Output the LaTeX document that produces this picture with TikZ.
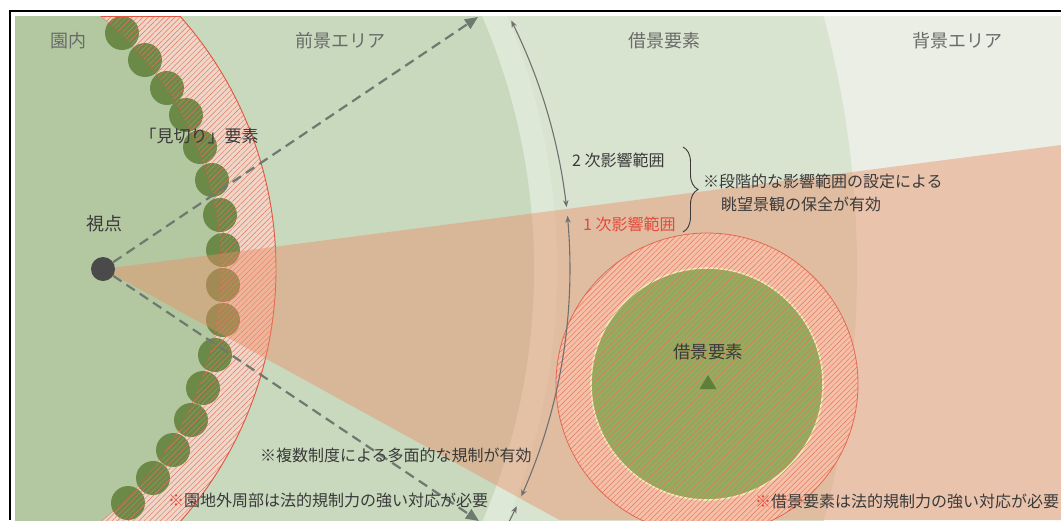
\documentclass[tikz,border=0pt]{standalone}
\usepackage{fontspec}
\setmainfont{Noto Sans CJK JP}
\usetikzlibrary{arrows.meta,patterns.meta,decorations.pathreplacing}
\definecolor{zoneIn}{HTML}{B3C8A0}
\definecolor{zoneFore}{HTML}{C8D9BE}
\definecolor{zoneBorrow}{HTML}{D8E3D0}
\definecolor{zoneBack}{HTML}{EAEEE4}
\definecolor{wedgeC}{HTML}{EC8C64}
\definecolor{treeC}{HTML}{6B8A48}
\definecolor{bandC}{HTML}{EED6C8}
\definecolor{hatchC}{HTML}{E2553F}
\definecolor{hatchL}{HTML}{E47560}
\definecolor{ringC}{HTML}{F4C0A8}
\definecolor{innerC}{HTML}{92AD5E}
\definecolor{creamC}{HTML}{F2E8B8}
\definecolor{triC}{HTML}{5E7F3A}
\definecolor{vpC}{HTML}{4A4A4A}
\definecolor{dashC}{HTML}{6E7A70}
\definecolor{arcC}{HTML}{707070}
\definecolor{zoneTxt}{HTML}{6A6A6A}
\definecolor{darkTxt}{HTML}{3A3A3A}
\definecolor{redTxt}{HTML}{E5483A}
\tikzset{
  zonelab/.style={text=zoneTxt, inner sep=0pt, font=\fontsize{18}{20}\selectfont},
  darklab/.style={text=darkTxt, inner sep=0pt, font=\fontsize{17}{20}\selectfont},
  notelab/.style={text=darkTxt, inner sep=0pt, font=\fontsize{16}{19}\selectfont, anchor=west},
  hatch/.style={pattern={Lines[angle=45,distance=3.8pt,line width=0.45pt]}, pattern color=hatchL},
  dasharrow/.style={draw=dashC, line width=2.2pt, dash pattern=on 10pt off 6pt, -{Triangle[length=13pt,width=11pt]}},
  measarrow/.style={draw=arcC, line width=1.1pt},
  tipS/.tip={Stealth[length=7pt,width=5.5pt]},
}
\begin{document}
\begin{tikzpicture}[x=1pt,y=-1pt]
\useasboundingbox (0,0) rectangle (1061,520);
\coordinate (C) at (-105,269);
\coordinate (topTip) at (478,17);
\coordinate (botTip) at (479,521);
\coordinate (wedgeTop) at (1061,145);
\coordinate (wedgeBot) at (559.4,520);
\coordinate (ringC0) at (707,384);
\begin{scope}
  \clip (15,16) rectangle (1061,520);
  % zones
  \fill[zoneBack] (15,16) rectangle (1061,520);
  \fill[zoneBorrow] (C) circle[radius=962];
  \fill[white!16!zoneBorrow] (C) circle[radius=662];
  \fill[zoneFore] (C) circle[radius=639];
  \fill[zoneIn] (C) circle[radius=326];
  % boundary band
  \fill[bandC, even odd rule] (C) circle[radius=381] (C) circle[radius=326];
  \foreach \x/\y in {122/33,145/60,167/88,186/115,200/147,212/180,220/215,223/250,223/285,223/320,215/355,203/388,191/420,173/450,153/478,128/503}
    \fill[treeC] (\x,\y) circle[radius=17];
  \fill[hatch, even odd rule] (C) circle[radius=381] (C) circle[radius=326];
  \draw[hatchC, line width=0.7pt, opacity=0.45] (C) circle[radius=326];
  \draw[hatchC, line width=0.9pt] (C) circle[radius=381];
  \draw[hatchC, line width=0.9pt] (100.6,16.5) -- (179.9,16.5);
  % view wedge
  \node[circle, inner sep=0pt, minimum size=24pt] (vp) at (103,269) {};
  \fill[wedgeC, fill opacity=0.43] (vp.center) -- (wedgeTop) -- (1061,520) -- (wedgeBot) -- cycle;
  % borrowed scenery element
  \fill[ringC] (ringC0) circle[radius=151];
  \fill[innerC] (ringC0) circle[radius=116];
  \draw[creamC, line width=1.6pt] (ringC0) circle[radius=116];
  \fill[hatch] (ringC0) circle[radius=151];
  \draw[hatchC, line width=0.8pt, opacity=0.8] (ringC0) circle[radius=151];
  \fill[triC] (708,375) -- (716.5,389) -- (699.5,389) -- cycle;
  % dashed sight lines
  \draw[dasharrow] (vp) -- (topTip);
  \draw[dasharrow] (vp) -- (botTip);
  % measurement arcs
  \draw[measarrow, tipS-tipS] plot[domain=-26.6:-6.4, samples=50] ({15+555*cos(\x)},{269+555*sin(\x)});
  \draw[measarrow, tipS-tipS] plot[domain=-5.5:24.2, samples=70] ({15+555*cos(\x)},{269+555*sin(\x)});
  \draw[measarrow, tipS-] plot[domain=25.3:29, samples=20] ({15+555*cos(\x)},{269+555*sin(\x)});
\end{scope}
\fill[vpC] (vp.center) circle[radius=12];
% frame
\draw[black, line width=1.3pt] (1061,11) -- (10,11) -- (10,520);
% brace
\draw[darkTxt, line width=0.9pt, decorate, decoration={brace, amplitude=15pt}] (683,147) -- (683,232);
% labels
\node[zonelab] (lIn) at (68,41) {園内};
\node[zonelab] (lFore) at (340,41) {前景エリア};
\node[zonelab] (lBorrow) at (664,41) {借景要素};
\node[zonelab] (lBack) at (957,41) {背景エリア};
\node[darklab] (lMikiri) at (199,136) {「見切り」要素};
\node[darklab, font=\fontsize{18}{20}\selectfont] (lVp) at (104,224) {視点};
\node[notelab] (l2nd) at (572,160) {2 次影響範囲};
\node[notelab, text=redTxt] (l1st) at (583,224) {1 次影響範囲};
\node[notelab] (lStep1) at (703,181) {※段階的な影響範囲の設定による};
\node[notelab] (lStep2) at (721,204) {眺望景観の保全が有効};
\node[darklab, font=\fontsize{17.5}{20}\selectfont] (lElem) at (708,352) {借景要素};
\node[notelab] (lMulti) at (260,455) {※複数制度による多面的な規制が有効};
\node[notelab] (lPark) at (168,500) {{\color{redTxt}※}園地外周部は法的規制力の強い対応が必要};
\node[notelab] (lLaw) at (755,501) {{\color{redTxt}※}借景要素は法的規制力の強い対応が必要};
\end{tikzpicture}
\end{document}
